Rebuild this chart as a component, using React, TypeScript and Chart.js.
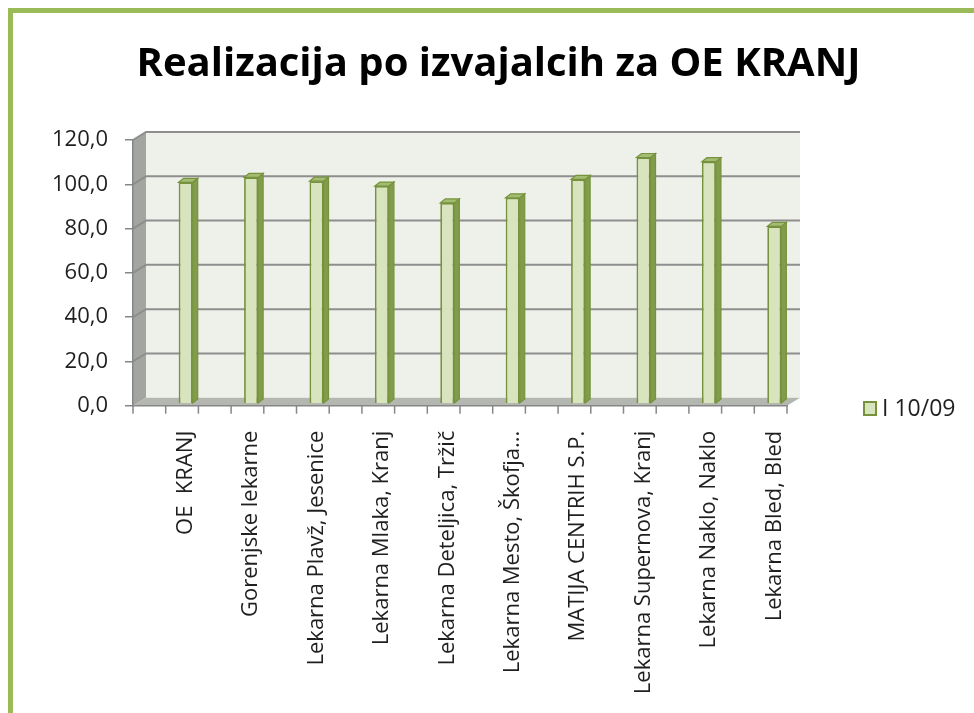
import React, { useEffect, useRef } from 'react';
import { Chart, registerables } from 'chart.js';

Chart.register(...registerables);

// ---- data ----
const categories = [
  'OE  KRANJ',
  'Gorenjske lekarne',
  'Lekarna Plavž, Jesenice',
  'Lekarna Mlaka, Kranj',
  'Lekarna Deteljica, Tržič',
  'Lekarna Mesto, Škofja...',
  'MATIJA CENTRIH S.P.',
  'Lekarna Supernova, Kranj',
  'Lekarna Naklo, Naklo',
  'Lekarna Bled, Bled',
];
const seriesLabel = 'I 10/09';
const seriesValues = [100.0, 102.2, 100.5, 98.3, 90.7, 93.0, 101.3, 111.2, 109.3, 80.1];
const yTickLabels = ['0,0', '20,0', '40,0', '60,0', '80,0', '100,0', '120,0'];
const chartTitle = 'Realizacija po izvajalcih za OE KRANJ';

// ---- styles ----
const FONT = 'Open Sans';
const BAR_FILL = '#D7E4BD';
const BAR_LINE = '#76923C';
const BAR_SIDE = '#819D4B';
const BAR_TOP = '#A3BC72';
const WALL = '#EEF1EA';
const SIDE_WALL = '#A3A6A0';
const FLOOR = '#B4B7AF';
const GRID = '#8E8E8E';
const AXIS = '#868686';
const TEXT = '#1F1F1F';
const WALL_DX = 13;
const WALL_DY = -8;
const BAR_SHIFT_X = 20;
const BAR_SHIFT_Y = -2;
const BAR_DX = 5;
const BAR_DY = -4;

function poly(ctx: CanvasRenderingContext2D, pts: number[][]) {
  ctx.beginPath();
  ctx.moveTo(pts[0][0], pts[0][1]);
  for (let i = 1; i < pts.length; i++) ctx.lineTo(pts[i][0], pts[i][1]);
  ctx.closePath();
}

const wallsPlugin = {
  id: 'walls3d',
  beforeDraw(chart: any) {
    const { ctx, chartArea: a } = chart;
    const y = chart.scales.y;
    const L = a.left, R = a.right, T = a.top, B = a.bottom;
    ctx.save();
    ctx.fillStyle = WALL;
    ctx.fillRect(L + WALL_DX, T + WALL_DY, R - L, B - T);
    poly(ctx, [[L, T], [L + WALL_DX, T + WALL_DY], [L + WALL_DX, B + WALL_DY], [L, B]]);
    ctx.fillStyle = SIDE_WALL;
    ctx.fill();
    poly(ctx, [[L, B], [L + WALL_DX, B + WALL_DY], [R + WALL_DX, B + WALL_DY], [R, B]]);
    ctx.fillStyle = FLOOR;
    ctx.fill();
    ctx.strokeStyle = GRID;
    ctx.lineWidth = 2;
    y.ticks.forEach((t: any) => {
      if (t.value === 0) return;
      const py = y.getPixelForValue(t.value);
      ctx.beginPath();
      ctx.moveTo(L, py);
      ctx.lineTo(L + WALL_DX, py + WALL_DY);
      ctx.lineTo(R + WALL_DX, py + WALL_DY);
      ctx.stroke();
    });
    // half-category tick marks under the floor
    const n = chart.data.labels.length * 2;
    ctx.strokeStyle = AXIS;
    ctx.lineWidth = 1.5;
    for (let i = 0; i <= n; i++) {
      const px = L + ((R - L) * i) / n;
      ctx.beginPath();
      ctx.moveTo(px, B);
      ctx.lineTo(px, B + 8);
      ctx.stroke();
    }
    ctx.restore();
  },
};

const bars3dPlugin = {
  id: 'bars3d',
  beforeDatasetsDraw(chart: any) {
    const { ctx } = chart;
    ctx.save();
    ctx.translate(BAR_SHIFT_X, BAR_SHIFT_Y);
    const meta = chart.getDatasetMeta(0);
    ctx.lineWidth = 1.2;
    ctx.strokeStyle = BAR_LINE;
    meta.data.forEach((el: any) => {
      const { x, y, base, width } = el.getProps(['x', 'y', 'base', 'width'], true);
      const xl = x - width / 2;
      const xr = x + width / 2;
      poly(ctx, [[xr, y], [xr + BAR_DX, y + BAR_DY], [xr + BAR_DX, base + BAR_DY], [xr, base]]);
      ctx.fillStyle = BAR_SIDE;
      ctx.fill();
      ctx.stroke();
      poly(ctx, [[xl, y], [xl + BAR_DX, y + BAR_DY], [xr + BAR_DX, y + BAR_DY], [xr, y]]);
      ctx.fillStyle = BAR_TOP;
      ctx.fill();
      ctx.stroke();
    });
  },
  afterDatasetsDraw(chart: any) {
    chart.ctx.restore();
  },
};

const legendPlugin = {
  id: 'sideLegend',
  afterDraw(chart: any) {
    const { ctx } = chart;
    const ds = chart.data.datasets[0];
    ctx.save();
    ctx.fillStyle = ds.backgroundColor;
    ctx.strokeStyle = ds.borderColor;
    ctx.lineWidth = 2;
    ctx.fillRect(864, 402, 12, 13);
    ctx.strokeRect(864, 402, 12, 13);
    ctx.fillStyle = TEXT;
    ctx.font = `23px "${FONT}"`;
    ctx.textBaseline = 'middle';
    ctx.textAlign = 'left';
    ctx.fillText(ds.label, 882, 409);
    ctx.restore();
  },
};

export default function App() {
  const ref = useRef<HTMLCanvasElement>(null);

  useEffect(() => {
    const chart = new Chart(ref.current as HTMLCanvasElement, {
      type: 'bar',
      data: {
        labels: categories,
        datasets: [
          {
            label: seriesLabel,
            data: seriesValues,
            backgroundColor: BAR_FILL,
            borderColor: BAR_LINE,
            borderWidth: 1.8,
            barPercentage: 0.215,
            categoryPercentage: 1,
            clip: false as any,
          },
        ],
      },
      options: {
        responsive: false,
        animation: false,
        devicePixelRatio: 1,
        layout: { padding: 0 },
        plugins: {
          legend: { display: false },
          tooltip: { enabled: false },
          title: {
            display: true,
            text: chartTitle,
            color: '#000',
            font: { family: FONT, size: 40, weight: 'bold', lineHeight: 1.2 },
            padding: { top: 41, bottom: 51 },
          },
        },
        scales: {
          x: {
            grid: { display: false },
            border: { display: true, color: AXIS, width: 1.5 },
            ticks: {
              autoSkip: false,
              minRotation: 90,
              maxRotation: 90,
              labelOffset: BAR_SHIFT_X,
              padding: 17,
              color: TEXT,
              font: { family: FONT, size: 22 },
            },
            afterFit: (s: any) => {
              s.height = 713 - 405.7;
            },
          },
          y: {
            min: 0,
            max: 120,
            ticks: {
              stepSize: 20,
              padding: 17,
              color: TEXT,
              font: { family: FONT, size: 22 },
              callback: (_v: any, i: number) => yTickLabels[i],
            },
            grid: { drawOnChartArea: false, drawTicks: true, tickLength: 8, color: AXIS, lineWidth: 1.5 },
            border: { display: true, color: AXIS, width: 1.5 },
            afterFit: (s: any) => {
              s.width = 133;
            },
          },
          spacer: {
            type: 'linear',
            position: 'right',
            display: true,
            grid: { display: false },
            border: { display: false },
            ticks: { display: false },
            afterFit: (s: any) => {
              s.width = 210;
            },
          },
        },
      } as any,
      plugins: [wallsPlugin, bars3dPlugin, legendPlugin],
    });
    return () => chart.destroy();
  }, []);

  return (
    <div style={{ position: 'fixed', left: 0, top: 0, right: 0, bottom: 0, overflow: 'hidden', background: '#fff' }}>
      <div
        style={{
          position: 'absolute',
          left: 8,
          top: 8,
          width: 2000,
          height: 2000,
          borderLeft: '5px solid #9BBB59',
          borderTop: '5px solid #9BBB59',
        }}
      />
      <canvas ref={ref} width={997} height={713} style={{ position: 'absolute', left: 0, top: 0 }} />
    </div>
  );
}
